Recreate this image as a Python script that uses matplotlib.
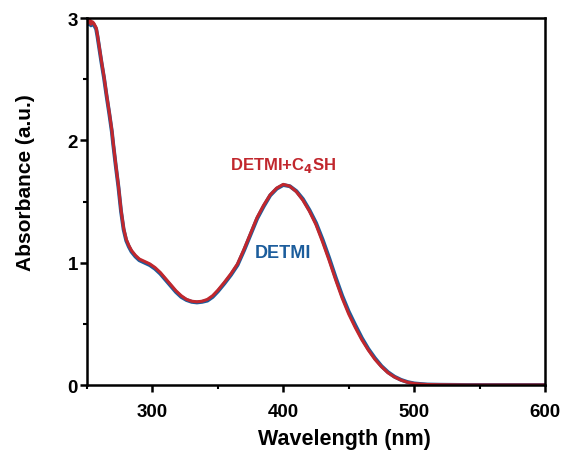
import matplotlib.pyplot as plt
from matplotlib.ticker import MultipleLocator

plt.rcParams['font.family'] = ['Liberation Sans', 'DejaVu Sans']
plt.rcParams['font.weight'] = 'bold'

# wavelength (nm) and absorbance
wl = [250, 251, 252, 253, 254, 255, 256, 257, 258, 259, 261, 263, 265, 267, 269, 270,
      272, 274, 276, 278, 280, 282, 284, 287, 290, 294, 298, 302, 306, 310, 314, 318,
      322, 326, 330, 334, 338, 342, 346, 350, 355, 360, 365, 370, 375, 380, 385, 390,
      395, 400, 405, 410, 415, 420, 425, 430, 435, 440, 445, 450, 455, 460, 465, 470,
      475, 480, 485, 490, 495, 500, 505, 510, 520, 540, 560, 580, 600]
red_abs = [2.98, 2.96, 2.99, 2.95, 2.97, 2.96, 2.94, 2.92, 2.86, 2.79, 2.65, 2.52, 2.37,
           2.23, 2.08, 1.98, 1.80, 1.63, 1.43, 1.28, 1.19, 1.14, 1.10, 1.06, 1.03, 1.01,
           0.99, 0.96, 0.92, 0.87, 0.82, 0.77, 0.73, 0.70, 0.685, 0.68, 0.685, 0.70,
           0.73, 0.775, 0.84, 0.91, 0.99, 1.11, 1.24, 1.37, 1.47, 1.555, 1.61, 1.64,
           1.625, 1.58, 1.51, 1.42, 1.31, 1.17, 1.02, 0.86, 0.71, 0.58, 0.47, 0.37,
           0.285, 0.21, 0.15, 0.10, 0.065, 0.04, 0.022, 0.012, 0.007, 0.004, 0.002,
           0.0, 0.0, 0.0, 0.0]
blue_abs = [2.97, 2.95, 2.98, 2.94, 2.96, 2.95, 2.93, 2.91, 2.85, 2.78, 2.64, 2.51, 2.36,
            2.22, 2.07, 1.97, 1.79, 1.62, 1.42, 1.27, 1.18, 1.13, 1.09, 1.05, 1.02, 1.00,
            0.98, 0.95, 0.91, 0.86, 0.81, 0.76, 0.72, 0.695, 0.68, 0.675, 0.68, 0.69,
            0.72, 0.765, 0.83, 0.90, 0.98, 1.10, 1.23, 1.36, 1.46, 1.55, 1.605, 1.635,
            1.625, 1.585, 1.52, 1.43, 1.325, 1.19, 1.04, 0.88, 0.73, 0.60, 0.49, 0.385,
            0.295, 0.22, 0.155, 0.105, 0.068, 0.042, 0.024, 0.013, 0.008, 0.004, 0.002,
            0.0, 0.0, 0.0, 0.0]

red = '#c1272d'
blue = '#1c5d9c'

fig = plt.figure(figsize=(5.65, 4.56), dpi=100)
ax = fig.add_axes([0.154, 0.1535, 0.8106, 0.8048])

ax.plot(wl, blue_abs, color=blue, lw=2.8)
ax.plot(wl, red_abs, color=red, lw=2.2)

ax.text(400, 1.80, 'DETMI+C$_4$SH', color=red, fontsize=12, fontweight='bold',
        ha='center', va='center')
ax.text(400, 1.08, 'DETMI', color=blue, fontsize=13, fontweight='bold',
        ha='center', va='center')

ax.set_xlim(250, 600)
ax.set_ylim(0, 3)
ax.xaxis.set_minor_locator(MultipleLocator(50))
ax.yaxis.set_major_locator(MultipleLocator(1))
ax.yaxis.set_minor_locator(MultipleLocator(0.5))
ax.set_xticks([300, 400, 500, 600])

for s in ax.spines.values():
    s.set_linewidth(1.8)
ax.tick_params(which='major', direction='out', length=5, width=1.8, labelsize=13.5)
ax.tick_params(axis='x', which='major', pad=8)
ax.tick_params(axis='y', which='major', pad=1.5)
ax.tick_params(which='minor', direction='out', length=3, width=1.5)

ax.set_xlabel('Wavelength (nm)', fontsize=15.5, fontweight='bold')
ax.set_ylabel('Absorbance (a.u.)', fontsize=15, fontweight='bold')
ax.xaxis.set_label_coords(0.562, -0.118)
ax.yaxis.set_label_coords(-0.1135, 0.555)

fig.savefig('out.png', dpi=100)
